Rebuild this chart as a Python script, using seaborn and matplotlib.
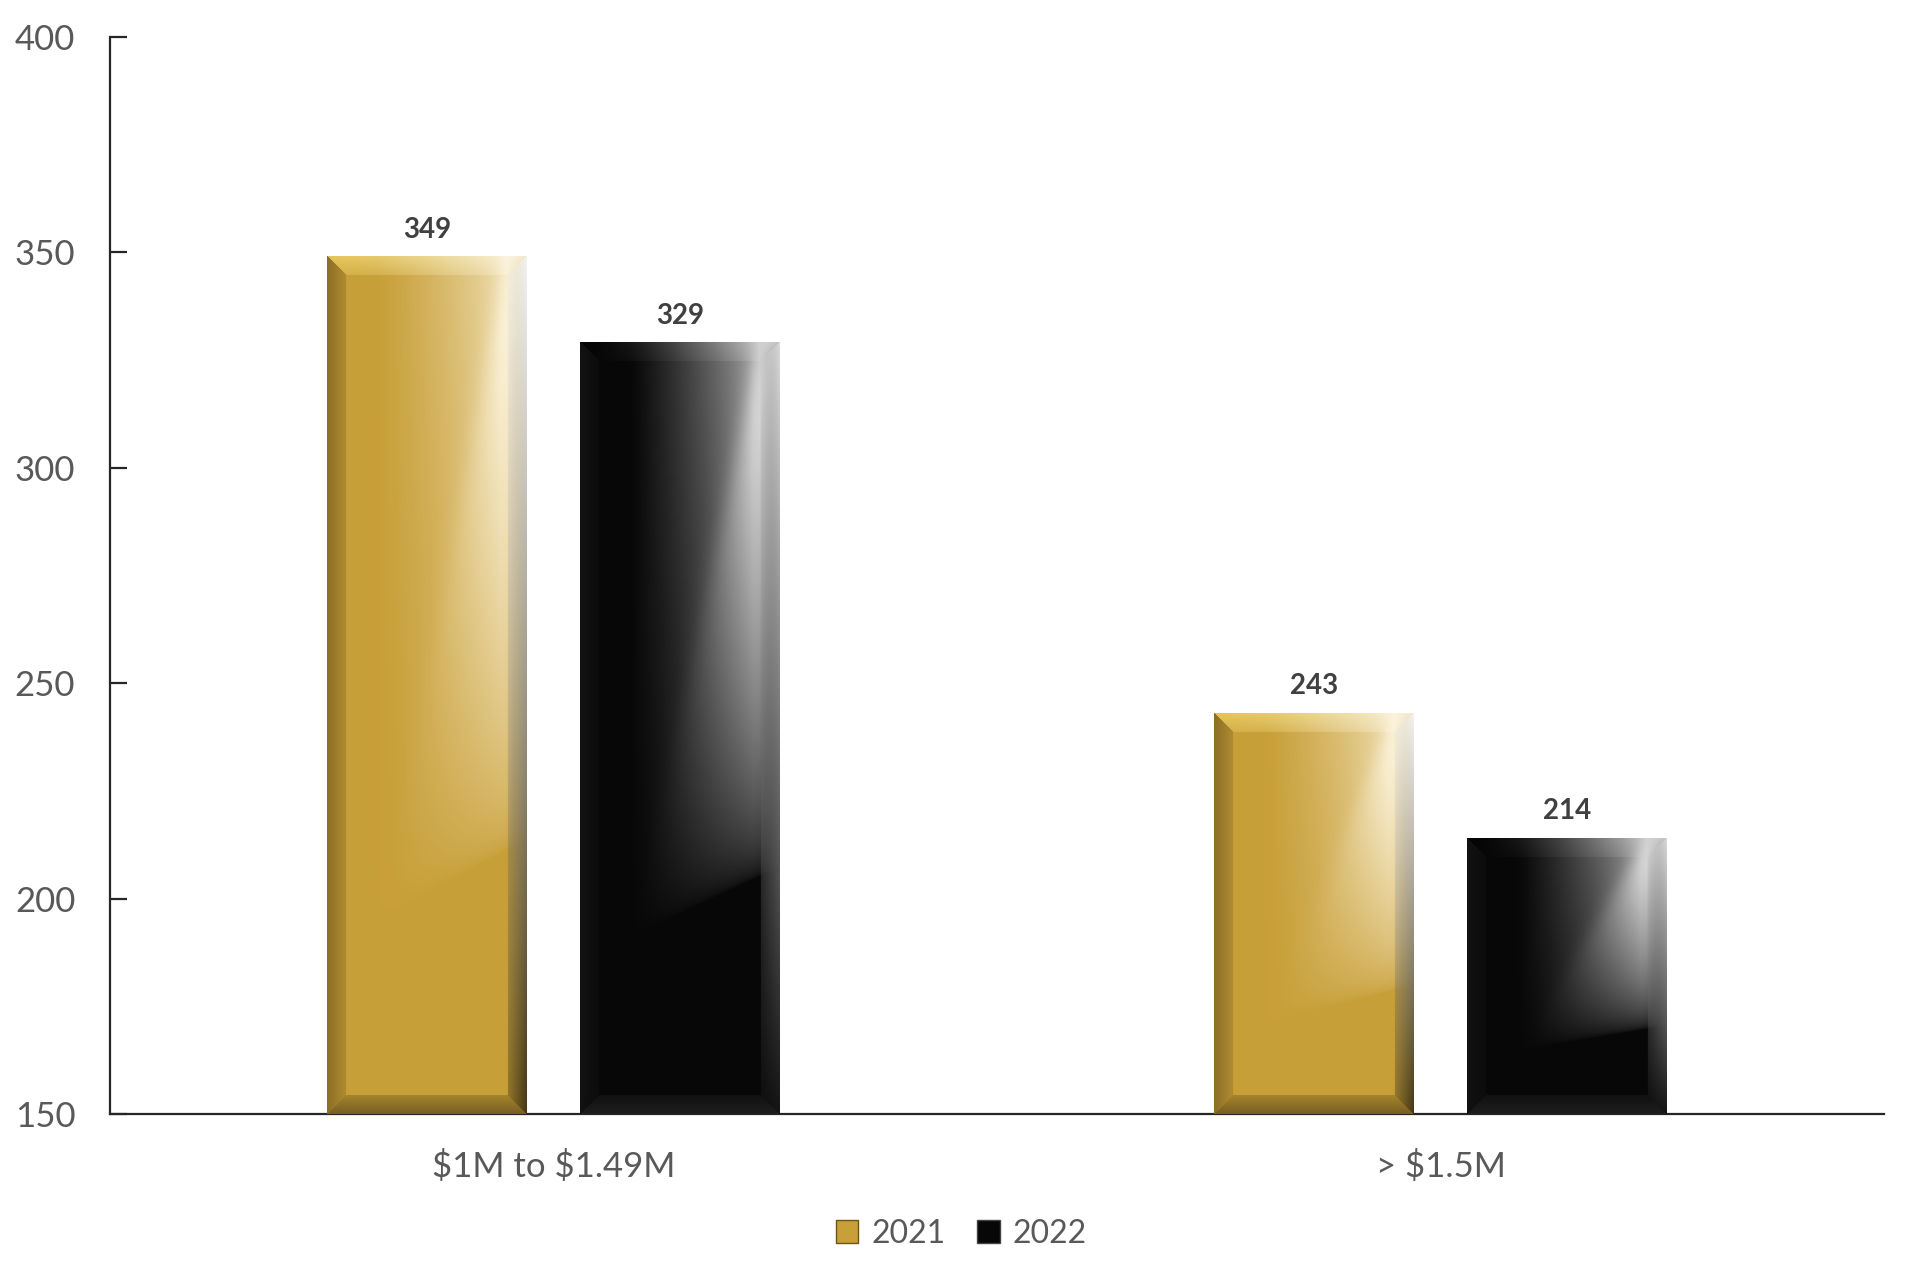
import numpy as np
import pandas as pd
import matplotlib
matplotlib.use('Agg')
import matplotlib.pyplot as plt
import seaborn as sns
from matplotlib.patches import Patch

# veri
categories = ['$1M to $1.49M', '> $1.5M']
years = ['2021', '2022']
values_2021 = [349, 243]
values_2022 = [329, 214]

gold = np.array([0.784, 0.624, 0.220])
black = np.array([0.03, 0.03, 0.03])

df = pd.DataFrame({
    'category': categories * 2,
    'year': [years[0]] * 2 + [years[1]] * 2,
    'value': values_2021 + values_2022,
})

sns.set_style('white')
plt.rcParams['font.family'] = ['Lato', 'DejaVu Sans']
plt.rcParams['text.parse_math'] = False

fig = plt.figure(figsize=(19.11, 12.77), dpi=100)
ax = fig.add_axes([0.0576, 0.1277, 0.9284, 0.8433])

sns.barplot(data=df, x='category', y='value', hue='year',
            palette=['#C89F38', '#070707'], width=0.57, gap=0.21,
            legend=False, ax=ax, zorder=2)

ax.set_ylim(150, 400)
ax.set_xlim(-0.5, 1.5)
ax.set_yticks(range(150, 401, 50))
ax.set_xlabel('')
ax.set_ylabel('')

for s in ['top', 'right']:
    ax.spines[s].set_visible(False)
for s in ['left', 'bottom']:
    ax.spines[s].set_color('#262626')
    ax.spines[s].set_linewidth(1.6)
ax.tick_params(axis='y', left=True, direction='in', length=12, width=1.6,
               color='#262626', labelsize=25, labelcolor='#595959', pad=25)
ax.tick_params(axis='x', bottom=False, length=0, labelsize=25,
               labelcolor='#595959', pad=26)


def bevel_image(base, light, w, h, is_gold, bev=19):
    """Çubuk için parlak/eğimli görüntü"""
    w = max(int(w), 2)
    h = max(int(h), 2)
    u = np.linspace(0, 1, w)[None, :]
    v = np.linspace(0, 1, h)[:, None]
    # yatay parlama
    hl = np.clip((u - 0.25) / 0.62, 0, 1) ** 1.2
    hl = hl * np.where(u > 0.9, 1 - (u - 0.9) / 0.1 * 0.6, 1)
    # dikey sönme + çapraz kenar
    vend = 0.8 - 0.12 * u
    fade = np.clip(1 - v / vend, 0, 1) ** 0.55
    uline = 0.3 + 0.6 * (1 - np.clip(v / 0.72, 0, 1))
    diag = 1 / (1 + np.exp(-(u - uline) / 0.03))
    k = (hl * fade * (0.65 + 0.35 * diag))[..., None]
    face = base[None, None, :] * (1 - k) + light[None, None, :] * k
    face = np.broadcast_to(face, (h, w, 3)).copy()
    # kenarlar
    xpx = np.arange(w)[None, :]
    ypx = np.arange(h)[:, None]
    d = np.stack([np.broadcast_to(xpx, (h, w)),
                  np.broadcast_to(w - 1 - xpx, (h, w)),
                  np.broadcast_to(ypx, (h, w)),
                  np.broadcast_to(h - 1 - ypx, (h, w))])
    side = np.argmin(d, axis=0)
    dmin = np.min(d, axis=0)
    t = np.clip(dmin / bev, 0, 1)[..., None]
    vv = np.broadcast_to(v, (h, w))[..., None]
    uu = np.broadcast_to(u, (h, w))[..., None]
    if is_gold:
        left = face * 0.7
        top = face * 0.45 + np.array([1.0, 0.9, 0.45]) * 0.55 * (1 - uu) + np.ones(3) * 0.55 * uu
        right = np.ones(3) * (1 - vv) * 0.95 + face * 0.35 * vv
        bottom = face * 0.6
    else:
        left = face + 0.04
        top = face * 0.4 + np.ones(3) * 0.6 * uu ** 1.5
        right = np.ones(3) * (0.85 * (1 - vv) + 0.08 * vv)
        bottom = face * 0.5 + 0.1
    out = face.copy()
    band = dmin < bev
    for i, c in enumerate([left, right, top, bottom]):
        c = np.broadcast_to(c, out.shape)
        blend = c * (1 - 0.6 * t) + face * 0.6 * t
        m = band & (side == i)
        out[m] = blend[m]
    return np.clip(out, 0, 1)


fig.canvas.draw()
lights = [np.array([1.0, 0.975, 0.90]), np.array([0.92, 0.92, 0.92])]
bases = [gold, black]
for ci, cont in enumerate(ax.containers):
    for p in cont.patches:
        x0, y0 = p.get_x(), p.get_y()
        pw, ph = p.get_width(), p.get_height()
        (px0, py0), (px1, py1) = ax.transData.transform([(x0, 150), (x0 + pw, y0 + ph)])
        img = bevel_image(bases[ci], lights[ci], px1 - px0, py1 - py0, ci == 0)
        ax.imshow(img, extent=[x0, x0 + pw, 150, y0 + ph], aspect='auto',
                  interpolation='bilinear', zorder=3)
    ax.bar_label(cont, fmt='%d', padding=10, fontsize=20, fontweight='bold',
                 color='#404040', zorder=4)

ax.set_xlim(-0.5, 1.5)
ax.set_ylim(150, 400)

handles = [Patch(facecolor='#C89F38', edgecolor='#6b5416', label='2021'),
           Patch(facecolor='#070707', edgecolor='#444444', label='2022')]
fig.legend(handles=handles, loc='center', bbox_to_anchor=(0.503, 0.034), ncol=2,
           frameon=False, fontsize=23, labelcolor='#595959', handlelength=0.7,
           handleheight=0.7, handletextpad=0.4, columnspacing=1.0)

plt.savefig('out.png', dpi=100)
